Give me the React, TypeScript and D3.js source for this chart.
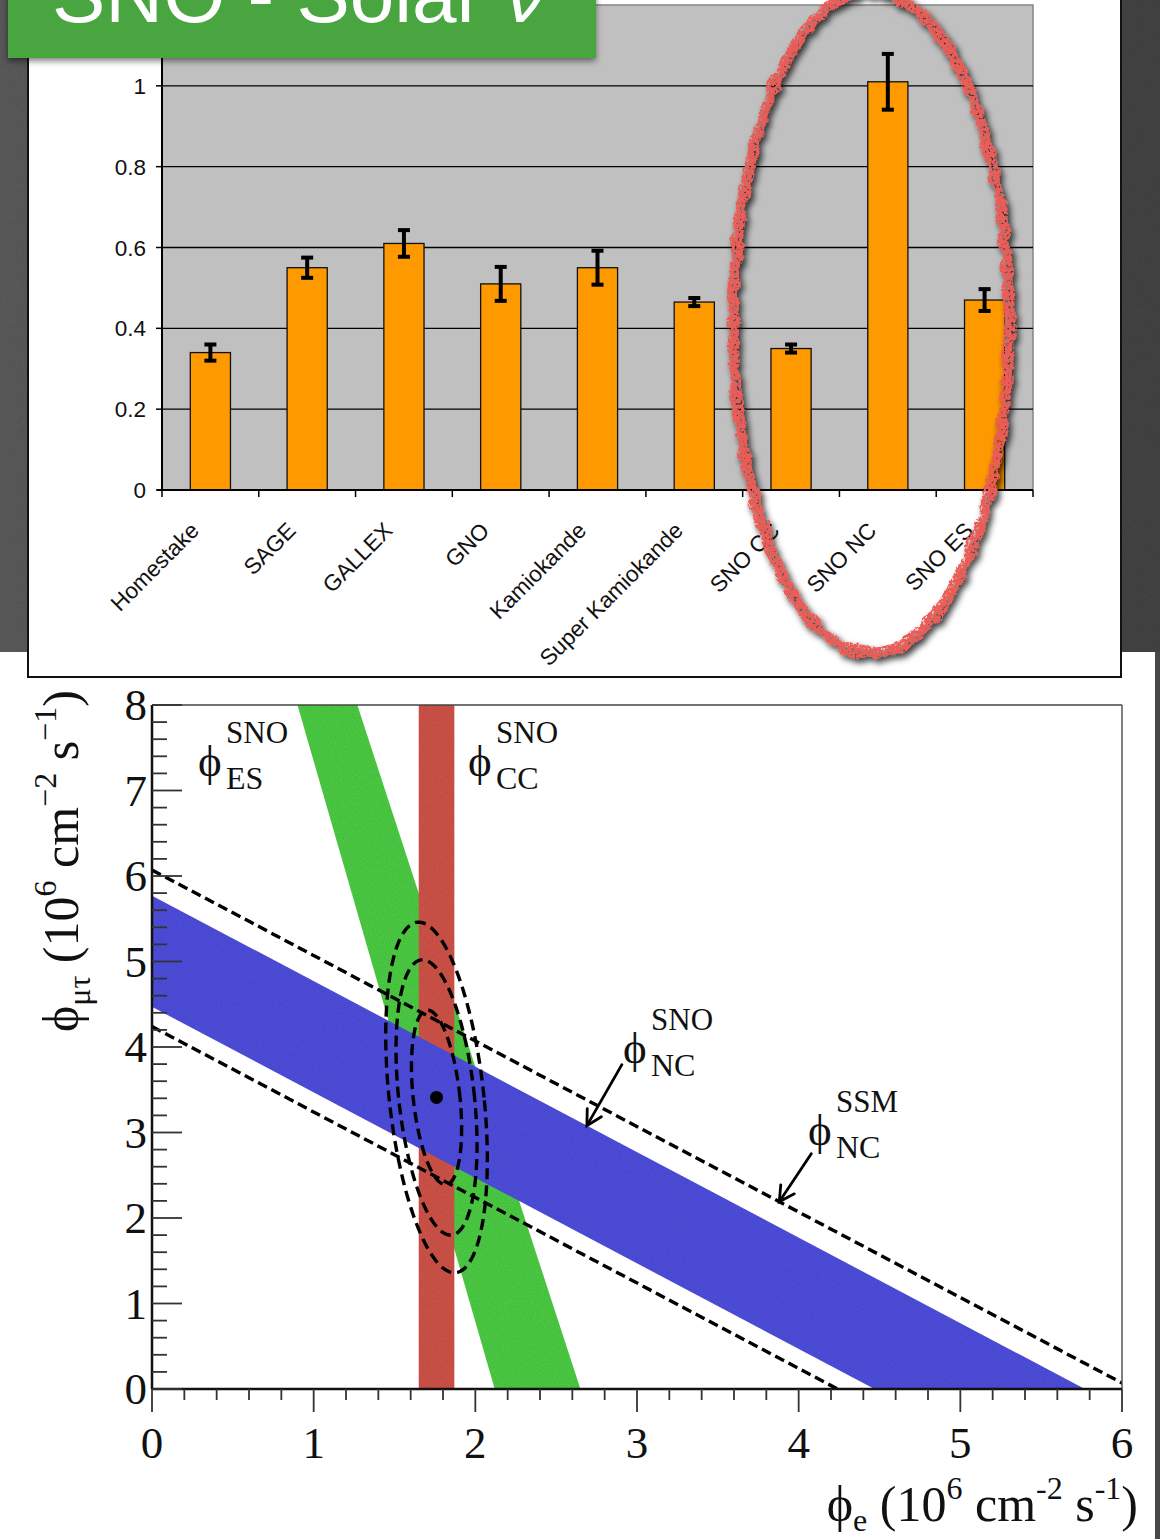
import React from "react";
import * as d3 from "d3";

// ---- Solar neutrino rate relative to the Standard Solar Model ----
const experiments = [
  "Homestake",
  "SAGE",
  "GALLEX",
  "GNO",
  "Kamiokande",
  "Super Kamiokande",
  "SNO CC",
  "SNO NC",
  "SNO ES",
];
const ratios = [0.34, 0.55, 0.61, 0.51, 0.55, 0.465, 0.35, 1.01, 0.47];
const ratioErrors = [0.02, 0.025, 0.033, 0.042, 0.042, 0.01, 0.01, 0.069, 0.027];
const ratioTicks = [0, 0.2, 0.4, 0.6, 0.8, 1];

// ---- SNO flavour content: phi_e vs phi_mutau (10^6 cm^-2 s^-1) ----
const ccBand = [1.65, 1.87]; // phi_e interval
const esEdgesAtTop = [0.9, 1.27]; // phi_e of ES band edges at phi_mutau = 8
const esEdgesAtZero = [2.12, 2.65]; // phi_e of ES band edges at phi_mutau = 0
const ncBand = [4.47, 5.77]; // phi_e + phi_mutau
const ssmBand = [4.24, 6.07]; // phi_e + phi_mutau
const bestFit = [1.76, 3.41];
const contourHalfWidths = [0.145, 0.235, 0.294];
const contourHalfHeights = [1.02, 1.61, 2.05];
const contourShear = -0.054;
const fluxTicksX = [0, 1, 2, 3, 4, 5, 6];
const fluxTicksY = [0, 1, 2, 3, 4, 5, 6, 7, 8];
const arrowTipPhiE = { sno: 2.69, ssm: 3.88 };

const SANS = "'Liberation Sans', Arial, Helvetica, sans-serif";
const SERIF = "'Liberation Serif', 'Times New Roman', Times, serif";

export default function App() {
  const W = 1160;
  const H = 1539;

  // bar chart scales
  const bx = d3.scaleBand<string>().domain(experiments).range([162, 1033]).padding(0);
  const by = d3.scaleLinear().domain([0, 1.2]).range([490, 5]);
  const barW = bx.bandwidth() * 0.415;
  const boundaries = experiments.map((e) => bx(e) as number).concat([bx.range()[1]]);

  // flux-plane scales
  const fx = d3.scaleLinear().domain([0, 6]).range([152, 1122]);
  const fy = d3.scaleLinear().domain([0, 8]).range([1389, 705]);
  const pts = (p: number[][]) => p.map(([a, b]) => `${fx(a)},${fy(b)}`).join(" ");
  const closed = d3
    .line<number[]>()
    .x((d) => fx(d[0]))
    .y((d) => fy(d[1]))
    .curve(d3.curveLinearClosed);
  const contour = (a: number, b: number) =>
    closed(
      d3.range(0, 360, 2).map((deg) => {
        const t = (deg * Math.PI) / 180;
        const s = b * Math.sin(t);
        return [bestFit[0] + a * Math.cos(t) + contourShear * s, bestFit[1] + s];
      })
    );
  const minorX = d3.range(0, 6.0001, 0.2);
  const minorY = d3.range(0, 8.0001, 0.2);

  const arrow = (phiE: number, total: number, dx: number, dy: number) => {
    const tx = fx(phiE);
    const ty = fy(total - phiE);
    const ang = Math.atan2(-dy, -dx);
    const wing = 17;
    const spread = 0.5;
    const w1 = [tx + wing * Math.cos(ang + Math.PI - spread), ty + wing * Math.sin(ang + Math.PI - spread)];
    const w2 = [tx + wing * Math.cos(ang + Math.PI + spread), ty + wing * Math.sin(ang + Math.PI + spread)];
    return (
      <g stroke="#000" strokeWidth={2.8} fill="none" strokeLinecap="round">
        <line x1={tx + dx} y1={ty + dy} x2={tx} y2={ty} />
        <polyline points={`${w1[0]},${w1[1]} ${tx},${ty} ${w2[0]},${w2[1]}`} />
      </g>
    );
  };

  const phiLabel = (x: number, y: number, sup: string, sub: string) => (
    <g fontFamily={SERIF} fill="#111">
      <text x={x} y={y} fontSize={45}>ϕ</text>
      <text x={x + 28} y={y - 33} fontSize={31}>{sup}</text>
      <text x={x + 28} y={y + 13} fontSize={32}>{sub}</text>
    </g>
  );

  const unitTail = (sub: string, subDy: number, gap: string, minus: string) => [
    <tspan key="s" fontSize={32} dy={subDy}>{sub}</tspan>,
    <tspan key="a" dy={-subDy}>{gap + "(10"}</tspan>,
    <tspan key="b" fontSize={32} dy={-22}>6</tspan>,
    <tspan key="c" dy={22}>{" cm"}</tspan>,
    <tspan key="d" fontSize={32} dy={-22}>{minus + "2"}</tspan>,
    <tspan key="e" dy={22}>{" s"}</tspan>,
    <tspan key="f" fontSize={32} dy={-22}>{minus + "1"}</tspan>,
    <tspan key="g" dy={22}>)</tspan>,
  ];

  return (
    <svg
      width={W}
      height={H}
      viewBox={`0 0 ${W} ${H}`}
      style={{ position: "absolute", left: 0, top: 0, display: "block" }}
    >
      <defs>
        <linearGradient id="slate" x1="0" x2="1" y1="0" y2="0">
          <stop offset="0" stopColor="#5e5e5e" />
          <stop offset="1" stopColor="#464646" />
        </linearGradient>
        <filter id="grainy" x="0" y="0" width="100%" height="100%">
          <feTurbulence type="fractalNoise" baseFrequency="0.9" numOctaves="2" seed="4" result="n" />
          <feColorMatrix
            in="n"
            type="matrix"
            values="0 0 0 0 0  0 0 0 0 0  0 0 0 0 0  0 0 0 0.3 0"
            result="dots"
          />
          <feComposite in="dots" in2="SourceGraphic" operator="in" result="dd" />
          <feMerge>
            <feMergeNode in="SourceGraphic" />
            <feMergeNode in="dd" />
          </feMerge>
        </filter>
        <filter id="boxShadow" x="-5%" y="-20%" width="110%" height="160%">
          <feDropShadow dx="0" dy="3" stdDeviation="3" floodColor="#000" floodOpacity="0.5" />
        </filter>
        <filter id="chalk" x="-20%" y="-10%" width="140%" height="120%">
          <feTurbulence type="fractalNoise" baseFrequency="0.08" numOctaves="3" seed="7" result="t" />
          <feDisplacementMap in="SourceGraphic" in2="t" scale="9" xChannelSelector="R" yChannelSelector="G" result="d" />
          <feTurbulence type="fractalNoise" baseFrequency="0.35" numOctaves="2" seed="2" result="fine" />
          <feColorMatrix
            in="fine"
            type="matrix"
            values="0 0 0 0 0  0 0 0 0 0  0 0 0 0 0  0 0 0 -6 4.2"
            result="mask"
          />
          <feComposite in="d" in2="mask" operator="in" result="rough" />
          <feColorMatrix
            in="d"
            type="matrix"
            values="0 0 0 0 0  0 0 0 0 0  0 0 0 0 0  0 0 0 0.75 0"
            result="blk"
          />
          <feGaussianBlur in="blk" stdDeviation="3" result="bl" />
          <feOffset in="bl" dx="3" dy="4" result="sh" />
          <feMerge>
            <feMergeNode in="sh" />
            <feMergeNode in="rough" />
          </feMerge>
        </filter>
        <clipPath id="plane">
          <rect x={fx(0)} y={fy(8)} width={fx(6) - fx(0)} height={fy(0) - fy(8)} />
        </clipPath>
      </defs>

      {/* backdrop */}
      <rect x={0} y={0} width={W} height={652} fill="url(#slate)" filter="url(#grainy)" />
      <rect x={0} y={652} width={W} height={H - 652} fill="#fff" />
      <rect x={1155} y={652} width={5} height={H - 652} fill="#474747" />

      {/* ===== bar chart panel ===== */}
      <rect x={28} y={-4} width={1093} height={681} fill="#fff" stroke="#111" strokeWidth={2} />
      <rect x={162} y={by(1.2)} width={1033 - 162} height={by(0) - by(1.2)} fill="#c0c0c0" stroke="#858585" strokeWidth={1.5} />
      {ratioTicks.slice(1).map((t) => (
        <line key={t} x1={162} x2={1033} y1={by(t)} y2={by(t)} stroke="#000" strokeWidth={1.3} />
      ))}
      {experiments.map((e, i) => {
        const cx = (bx(e) as number) + bx.bandwidth() / 2;
        const v = ratios[i];
        const er = ratioErrors[i];
        return (
          <g key={e}>
            <rect x={cx - barW / 2} y={by(v)} width={barW} height={by(0) - by(v)} fill="#ff9900" stroke="#111" strokeWidth={1.3} />
            <g stroke="#000" strokeWidth={4}>
              <line x1={cx} x2={cx} y1={by(v + er)} y2={by(v - er)} />
              <line x1={cx - 6} x2={cx + 6} y1={by(v + er)} y2={by(v + er)} />
              <line x1={cx - 6} x2={cx + 6} y1={by(v - er)} y2={by(v - er)} />
            </g>
          </g>
        );
      })}
      <line x1={162} x2={162} y1={by(1.2)} y2={by(0)} stroke="#000" strokeWidth={2} />
      <line x1={157} x2={1033} y1={by(0)} y2={by(0)} stroke="#000" strokeWidth={2} />
      {ratioTicks.map((t) => (
        <g key={t}>
          <line x1={156} x2={162} y1={by(t)} y2={by(t)} stroke="#000" strokeWidth={1.5} />
          <text x={146} y={by(t)} dy="0.36em" textAnchor="end" fontFamily={SANS} fontSize={22.5} fill="#111">
            {t}
          </text>
        </g>
      ))}
      {boundaries.map((b, i) => (
        <line key={i} x1={b} x2={b} y1={by(0)} y2={by(0) + 7} stroke="#000" strokeWidth={1.5} />
      ))}
      {experiments.map((e) => {
        const cx = (bx(e) as number) + bx.bandwidth() / 2;
        return (
          <text
            key={e}
            transform={`translate(${cx - 10},${by(0) + 42}) rotate(-45)`}
            textAnchor="end"
            fontFamily={SANS}
            fontSize={22.5}
            fill="#111"
          >
            {e}
          </text>
        );
      })}

      {/* hand-drawn highlight around the SNO results */}
      <ellipse
        cx={871}
        cy={322}
        rx={138}
        ry={331}
        fill="none"
        stroke="#ec5c57"
        strokeWidth={11}
        filter="url(#chalk)"
      />

      {/* title tab */}
      <rect x={8} y={-10} width={588} height={68} fill="#48a540" filter="url(#boxShadow)" />
      <text x={52} y={22} fontFamily={SANS} fontSize={80} fill="#fff">
        SNO - Solar <tspan fontStyle="italic">ν</tspan>
      </text>

      {/* ===== flux plane ===== */}
      <g clipPath="url(#plane)" filter="url(#grainy)">
        <polygon
          points={pts([
            [esEdgesAtTop[0], 8],
            [esEdgesAtTop[1], 8],
            [esEdgesAtZero[1], 0],
            [esEdgesAtZero[0], 0],
          ])}
          fill="#50d246"
        />
        <rect x={fx(ccBand[0])} y={fy(8)} width={fx(ccBand[1]) - fx(ccBand[0])} height={fy(0) - fy(8)} fill="#d5564b" />
        <polygon
          points={pts([
            [0, ncBand[0]],
            [0, ncBand[1]],
            [ncBand[1], 0],
            [ncBand[0], 0],
          ])}
          fill="#5151e3"
        />
      </g>
      <g clipPath="url(#plane)" fill="none" stroke="#000" strokeWidth={3.4}>
        {ssmBand.map((c) => (
          <line key={c} x1={fx(0)} y1={fy(c)} x2={fx(c)} y2={fy(0)} strokeDasharray="10 5" />
        ))}
        {contourHalfWidths.map((a, i) => (
          <path key={i} d={contour(a, contourHalfHeights[i]) as string} strokeDasharray="11 6" />
        ))}
      </g>
      <circle cx={fx(bestFit[0])} cy={fy(bestFit[1])} r={6.5} fill="#000" />

      {/* frame */}
      <line x1={fx(0)} x2={fx(6)} y1={fy(8)} y2={fy(8)} stroke="#444" strokeWidth={1.5} />
      <line x1={fx(6)} x2={fx(6)} y1={fy(8)} y2={fy(0)} stroke="#555" strokeWidth={1.5} />
      <line x1={fx(0)} x2={fx(0)} y1={fy(8)} y2={fy(0)} stroke="#111" strokeWidth={2.5} />
      <line x1={fx(0)} x2={fx(6)} y1={fy(0)} y2={fy(0)} stroke="#111" strokeWidth={2.5} />
      {minorY.map((t, i) => (
        <line
          key={i}
          x1={fx(0)}
          x2={fx(0) + (i % 5 === 0 ? 30 : 15)}
          y1={fy(t)}
          y2={fy(t)}
          stroke="#333"
          strokeWidth={1.8}
        />
      ))}
      {minorX.map((t, i) => (
        <line
          key={i}
          x1={fx(t)}
          x2={fx(t)}
          y1={fy(0)}
          y2={fy(0) + (i % 5 === 0 ? 23 : 11)}
          stroke="#333"
          strokeWidth={1.8}
        />
      ))}
      {fluxTicksY.map((t) => (
        <text key={t} x={147} y={fy(t)} dy="0.34em" textAnchor="end" fontFamily={SERIF} fontSize={45} fill="#111">
          {t}
        </text>
      ))}
      {fluxTicksX.map((t) => (
        <text key={t} x={fx(t)} y={1458} textAnchor="middle" fontFamily={SERIF} fontSize={45} fill="#111">
          {t}
        </text>
      ))}

      {/* band labels */}
      {phiLabel(198, 776, "SNO", "ES")}
      {phiLabel(468, 776, "SNO", "CC")}
      {phiLabel(623, 1063, "SNO", "NC")}
      {phiLabel(808, 1145, "SSM", "NC")}
      {arrow(arrowTipPhiE.sno, ncBand[1], 35, -61)}
      {arrow(arrowTipPhiE.ssm, ssmBand[1], 32, -48)}

      {/* axis titles */}
      <text x={1138} y={1521} textAnchor="end" fontFamily={SERIF} fontSize={50} fill="#111" xmlSpace="preserve">
        ϕ{unitTail("e", 10, " ", "-")}
      </text>
      <text
        transform="translate(78,1032) rotate(-90)"
        fontFamily={SERIF}
        fontSize={50}
        fill="#111"
        xmlSpace="preserve"
      >
        ϕ{unitTail("μτ", 12, " ", "−")}
      </text>
    </svg>
  );
}
